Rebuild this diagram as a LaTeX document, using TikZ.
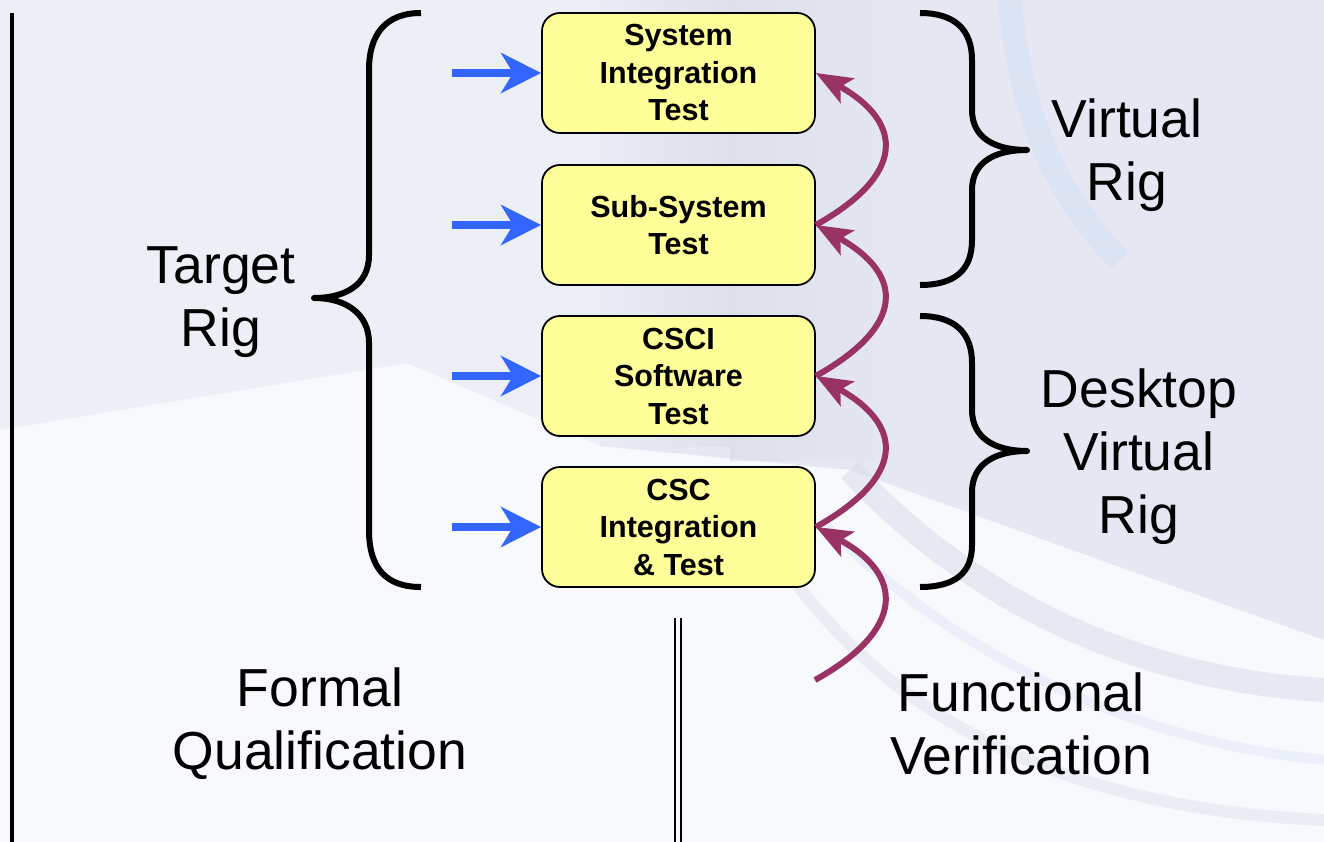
\documentclass[tikz,border=0pt]{standalone}
\usepackage{fontspec}
\setmainfont{Liberation Sans}
\usetikzlibrary{arrows.meta}
\definecolor{bgwhite}{HTML}{F8F9FD}
\definecolor{bgleft}{HTML}{EDEFF6}
\definecolor{bgright}{HTML}{E4E7F2}
\definecolor{bgmid}{HTML}{D9DCE7}
\definecolor{bgshade}{HTML}{D8DCE8}
\definecolor{bgblue}{HTML}{D6E2F4}
\definecolor{boxfill}{HTML}{FFFF99}
\definecolor{arrowblue}{HTML}{3366FF}
\definecolor{arcpurple}{HTML}{993366}
\tikzset{
  testbox/.style={draw=black, line width=1.8pt, fill=boxfill, rounded corners=18pt,
    minimum width=273pt, minimum height=120pt, inner sep=0pt, align=center,
    font=\fontsize{30.5}{37.5}\selectfont\bfseries},
  biglabel/.style={align=center, inner sep=0pt, font=\fontsize{53.5}{63}\selectfont},
  bluearrow/.style={draw=arrowblue, line width=8pt,
    -{Stealth[length=40pt, width=40pt, inset=12pt, fill=arrowblue]}},
  purplearc/.style={draw=arcpurple, line width=6pt,
    -{Stealth[length=36pt, width=28pt, inset=8pt, fill=arcpurple]}},
  bracepath/.style={draw=black, line width=6pt, line join=round},
  rule/.style={draw=black, line width=3.5pt}
}
\begin{document}
\begin{tikzpicture}[x=1pt,y=-1pt]
\useasboundingbox (0,0) rectangle (1324,842);
% background
\fill[bgwhite] (0,0) rectangle (1324,842);
\fill[bgleft] (0,0) -- (600,0) -- (600,446) -- (407,363) -- (0,430) -- cycle;
\fill[bgright, opacity=0.9] (600,0) -- (1324,0) -- (1324,640) -- (1100,560) -- (850,470) -- (600,446) -- cycle;
\shade[left color=bgleft, right color=bgmid, opacity=0.6] (600,0) rectangle (730,446);
\shade[left color=bgmid, right color=bgright, opacity=0.6] (730,0) rectangle (880,460);
\draw[bgblue, line width=24pt, opacity=0.6] (1010,0) .. controls (1020,120) and (1060,200) .. (1120,260);
\draw[bgshade, line width=24pt, opacity=0.55] (850,470) .. controls (980,610) and (1150,680) .. (1324,690);
\draw[bgshade, line width=12pt, opacity=0.4] (780,560) .. controls (900,740) and (1100,810) .. (1324,820);
\draw[bgblue, line width=10pt, opacity=0.4] (820,520) .. controls (950,650) and (1120,740) .. (1324,760);

% vertical rules
\draw[rule] (12,13) -- (12,842);
\draw[draw=black, line width=2.5pt] (675,618) -- (675,842);
\draw[draw=black, line width=2.5pt] (681,618) -- (681,842);

% boxes
\node[testbox] (sit) at (678.5,73) {System\\Integration\\Test};
\node[testbox] (sst) at (678.5,225) {Sub-System\\Test};
\node[testbox] (csci) at (678.5,376) {CSCI\\Software\\Test};
\node[testbox] (csc) at (678.5,527) {CSC\\Integration\\\& Test};

% blue input arrows
\coordinate (in1) at (452,73);
\coordinate (in2) at (452,225);
\coordinate (in3) at (452,376);
\coordinate (in4) at (452,527);
\draw[bluearrow] (in1) -- (sit.west);
\draw[bluearrow] (in2) -- (sst.west);
\draw[bluearrow] (in3) -- (csci.west);
\draw[bluearrow] (in4) -- (csc.west);

% purple arcs
\coordinate (start) at (815,680);
\draw[purplearc] (start) .. controls (905,630) and (905,575) .. (csc.east);
\draw[purplearc] (csc.east) .. controls (905,477) and (905,426) .. (csci.east);
\draw[purplearc] (csci.east) .. controls (905,326) and (905,275) .. (sst.east);
\draw[purplearc] (sst.east) .. controls (905,175) and (905,123) .. (sit.east);

% braces
\draw[bracepath] (421,13) .. controls (385,13) and (369,35) .. (369,70) -- (369,255)
  .. controls (369,285) and (345,298) .. (314,298)
  .. controls (345,298) and (369,313) .. (369,343) -- (369,530)
  .. controls (369,567) and (385,587) .. (421,587);
\draw[bracepath] (920,13) .. controls (955,13) and (972,30) .. (972,60) -- (972,110)
  .. controls (972,138) and (995,150) .. (1027,150)
  .. controls (995,150) and (972,162) .. (972,190) -- (972,240)
  .. controls (972,270) and (955,285) .. (920,285);
\draw[bracepath] (920,316) .. controls (955,316) and (972,333) .. (972,363) -- (972,410)
  .. controls (972,438) and (995,451) .. (1027,451)
  .. controls (995,451) and (972,464) .. (972,492) -- (972,545)
  .. controls (972,573) and (955,587) .. (920,587);

% labels
\node[biglabel] (target) at (221,302) {Target\\Rig};
\node[biglabel] (virtual) at (1127,155) {Virtual\\Rig};
\node[biglabel] (desktop) at (1139,457) {Desktop\\Virtual\\Rig};
\node[biglabel] (formal) at (320,724) {Formal\\Qualification};
\node[biglabel] (functional) at (1021,724) {Functional\\Verification};
\end{tikzpicture}
\end{document}
